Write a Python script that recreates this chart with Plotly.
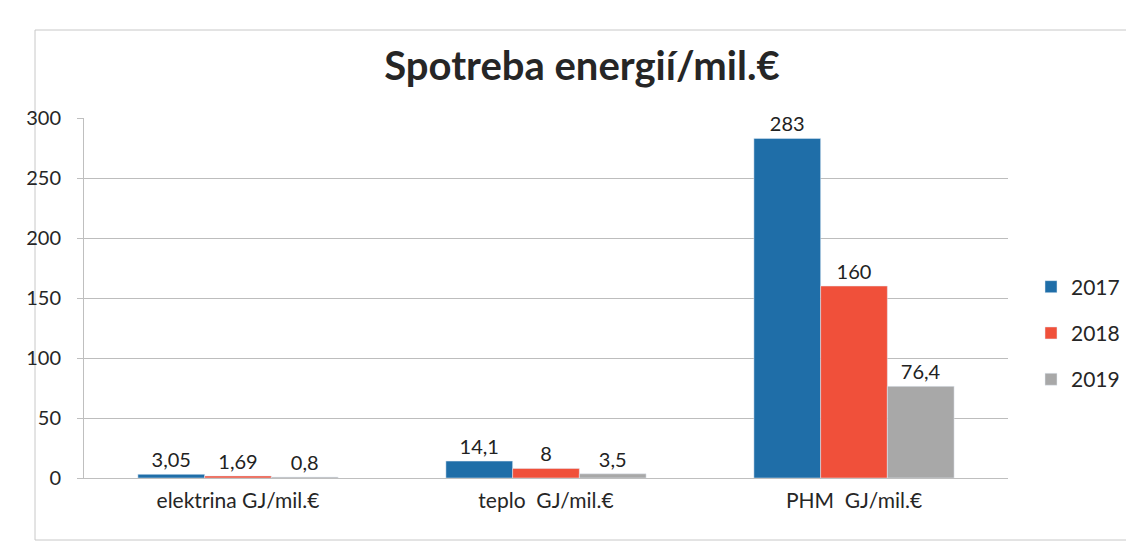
import plotly.graph_objects as go

categories = ["elektrina GJ/mil.€", "teplo  GJ/mil.€", "PHM  GJ/mil.€"]
years = ["2017", "2018", "2019"]
values_2017 = [3.05, 14.1, 283]
values_2018 = [1.69, 8, 160]
values_2019 = [0.8, 3.5, 76.4]
labels_2017 = ["3,05", "14,1", "283"]
labels_2018 = ["1,69", "8", "160"]
labels_2019 = ["0,8", "3,5", "76,4"]
y_ticks = [0, 50, 100, 150, 200, 250, 300]

colors = ["#1f6ea8", "#f0503a", "#a8a8a8"]
series = [values_2017, values_2018, values_2019]
labels = [labels_2017, labels_2018, labels_2019]

fig = go.Figure()
for name, vals, txt, col in zip(years, series, labels, colors):
    fig.add_trace(go.Bar(
        x=categories, y=vals, name=name, marker_color=col,
        text=txt, textposition="outside", cliponaxis=False,
        textfont=dict(size=20, color="#222222", family="Lato"),
        legendgroup=name,
    ))

# screen coordinates of target (page body has 8px offset)
OFF = 8
W, H = 1134 - 2 * OFF, 550 - 2 * OFF
L, T = 84 - OFF, 118 - OFF
R = W - (1008 - OFF)
B = H - (478 - OFF)
pw, ph = W - L - R, H - T - B

def px(x):
    return (x - OFF - L) / pw

def py(y):
    return (H - B - (y - OFF)) / ph

fig.update_layout(
    width=W, height=H,
    margin=dict(l=L, r=R, t=T, b=B, autoexpand=False),
    paper_bgcolor="white", plot_bgcolor="white",
    barmode="group", bargap=0.35, bargroupgap=0,
    title=dict(text="<b>Spotreba energií/mil.€</b>", x=(582 - OFF) / W,
               xanchor="center", y=1 - (66 - OFF) / H, yanchor="middle",
               font=dict(size=40, color="#262626", family="Lato")),
    font=dict(family="Lato", color="#262626"),
    legend=dict(x=px(1031), y=py(333), xanchor="left", yanchor="middle",
                font=dict(size=21, color="#262626"), tracegroupgap=16,
                itemwidth=30),
    xaxis=dict(tickfont=dict(size=21, color="#262626"), showline=True,
               linecolor="#bfbfbf", ticks="", showgrid=False,
               ticklabelstandoff=4),
    yaxis=dict(range=[0, 300], tickvals=y_ticks, showgrid=True,
               gridcolor="#bdbdbd", gridwidth=1, showline=True,
               linecolor="#bfbfbf", zeroline=False, ticks="outside",
               ticklen=6, tickcolor="#bfbfbf",
               tickfont=dict(size=20, color="#262626"), ticklabelstandoff=12),
    showlegend=True,
)

fig.add_shape(type="rect", xref="paper", yref="paper",
              x0=px(35), x1=px(1128), y0=py(540), y1=py(30),
              line=dict(color="#c8c8c8", width=1), layer="below")

fig.write_html("out.html")
